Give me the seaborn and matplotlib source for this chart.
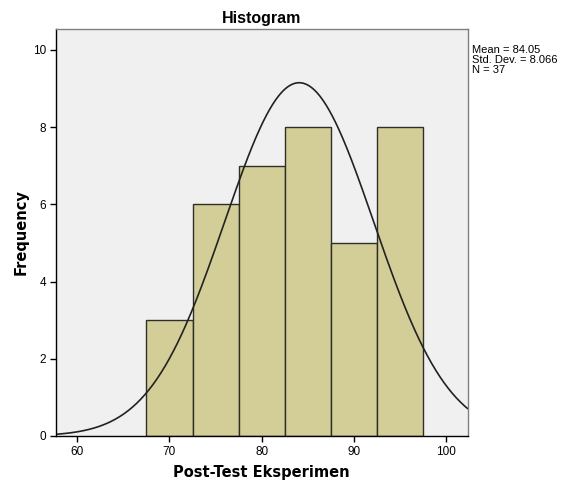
import numpy as np
import matplotlib
matplotlib.use("Agg")
import matplotlib.pyplot as plt
import seaborn as sns

# Data
bin_centers = [70, 75, 80, 85, 90, 95]
counts = [3, 6, 7, 8, 5, 8]
bin_edges = [67.5, 72.5, 77.5, 82.5, 87.5, 92.5, 97.5]
mean_val = 84.05
std_val = 8.066
n_val = 37
x_ticks = [60, 70, 80, 90, 100]
y_ticks = [0, 2, 4, 6, 8, 10]

sns.set_theme(style="white")
plt.rcParams['font.family'] = ['Liberation Sans', 'DejaVu Sans']
plt.rcParams['text.color'] = 'black'
plt.rcParams['axes.labelcolor'] = 'black'
plt.rcParams['xtick.color'] = 'black'
plt.rcParams['ytick.color'] = 'black'

fig = plt.figure(figsize=(5.7, 4.84), dpi=100)
ax = fig.add_axes([0.098, 0.0992, 0.7225, 0.8408])
ax.set_facecolor("#f0f0f0")

sns.histplot(x=bin_centers, weights=counts, bins=bin_edges, ax=ax,
             color="#d3ce97", edgecolor="#2f2f2a", linewidth=1.0, alpha=1.0)

xs = np.linspace(57.7, 102.3, 400)
binw = bin_edges[1] - bin_edges[0]
ys = n_val * binw / (std_val * np.sqrt(2 * np.pi)) * np.exp(-0.5 * ((xs - mean_val) / std_val) ** 2)
sns.lineplot(x=xs, y=ys, ax=ax, color="#222222", linewidth=1.2)

ax.set_xlim(57.7, 102.3)
ax.set_ylim(0, 10.54)
ax.set_xticks(x_ticks)
ax.set_yticks(y_ticks)
ax.tick_params(axis='both', direction='out', length=4, width=1, color='black',
               labelcolor='black', labelsize=8.5, pad=3, left=True, bottom=True)

for side in ['left', 'bottom']:
    ax.spines[side].set_color('black')
    ax.spines[side].set_linewidth(1.0)
for side in ['top', 'right']:
    ax.spines[side].set_color('#808080')
    ax.spines[side].set_linewidth(1.0)

ax.set_title("Histogram", fontsize=11.5, fontweight='bold', pad=4, color='black')
ax.set_xlabel("Post-Test Eksperimen", fontsize=10.5, fontweight='bold',
              family=['DejaVu Sans'], labelpad=5, color='black')
ax.set_ylabel("Frequency", fontsize=10.5, fontweight='bold',
              family=['DejaVu Sans'], labelpad=3, color='black')

fig.text(0.828, 0.908, f"Mean = {mean_val}\nStd. Dev. = {std_val}\nN = {n_val}",
         fontsize=8, va='top', ha='left', linespacing=1.05, color='black')

fig.savefig("out.png", dpi=100)
